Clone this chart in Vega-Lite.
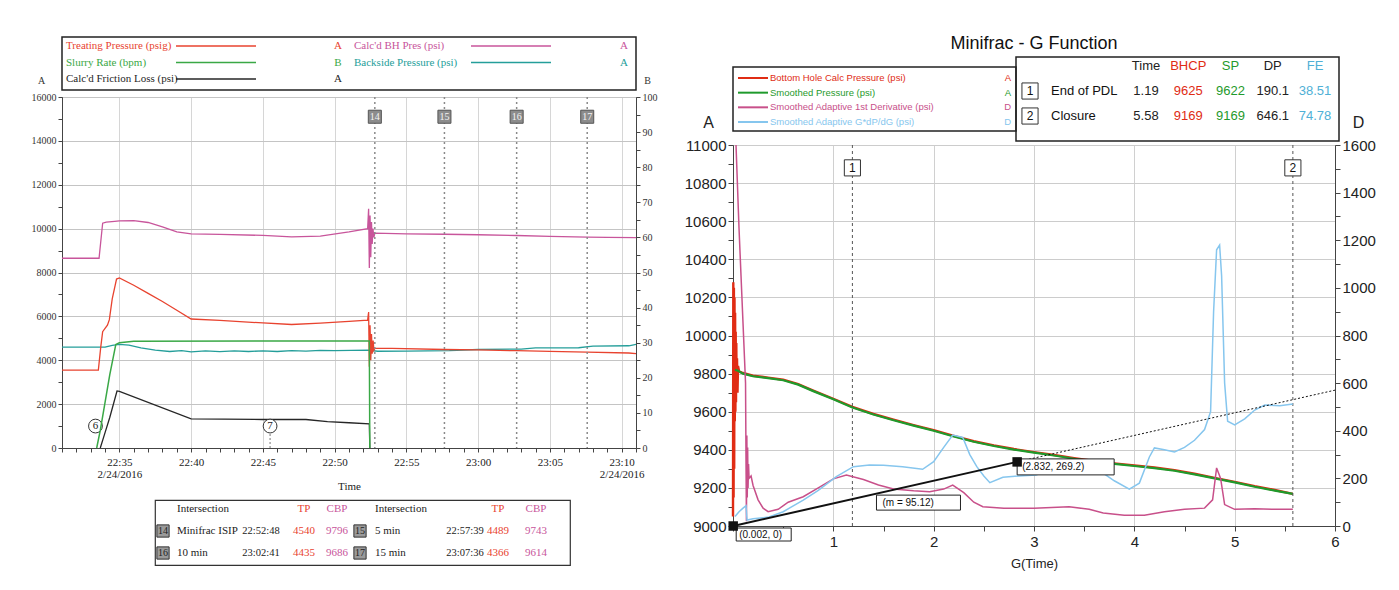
{
"$schema":"https://vega.github.io/schema/vega-lite/v6.json",
"background":"white",
"padding":{"left":30,"top":35,"right":0,"bottom":0},
"config":{"view":{"stroke":null},"axis":{"labelFontWeight":"normal","titleFontWeight":"normal","labelFlush":false,"labelOverlap":false}},
"datasets":{
"leftA":[
{"s":"BHP","t":31,"v":8650},{"s":"BHP","t":33.583,"v":8650},{"s":"BHP","t":33.833,"v":10250},{"s":"BHP","t":34.083,"v":10300},{"s":"BHP","t":34.667,"v":10330},{"s":"BHP","t":35,"v":10350},{"s":"BHP","t":36,"v":10360},{"s":"BHP","t":37,"v":10280},{"s":"BHP","t":38,"v":10080},{"s":"BHP","t":39,"v":9850},{"s":"BHP","t":40,"v":9760},{"s":"BHP","t":42,"v":9740},{"s":"BHP","t":45,"v":9690},{"s":"BHP","t":47,"v":9620},{"s":"BHP","t":49,"v":9660},{"s":"BHP","t":51,"v":9850},{"s":"BHP","t":52.3,"v":10000},{"s":"BHP","t":52.367,"v":10900},{"s":"BHP","t":52.417,"v":8200},{"s":"BHP","t":52.467,"v":10600},{"s":"BHP","t":52.517,"v":8700},{"s":"BHP","t":52.567,"v":10300},{"s":"BHP","t":52.617,"v":9300},{"s":"BHP","t":52.667,"v":10000},{"s":"BHP","t":52.733,"v":9600},{"s":"BHP","t":52.8,"v":9796},{"s":"BHP","t":55,"v":9765},{"s":"BHP","t":57.65,"v":9743},{"s":"BHP","t":60,"v":9720},{"s":"BHP","t":62.683,"v":9686},{"s":"BHP","t":65,"v":9650},{"s":"BHP","t":67.6,"v":9614},{"s":"BHP","t":69,"v":9600},{"s":"BHP","t":71,"v":9590},
{"s":"BS","t":31,"v":4600},{"s":"BS","t":34,"v":4600},{"s":"BS","t":34.5,"v":4680},{"s":"BS","t":35,"v":4720},{"s":"BS","t":35.667,"v":4690},{"s":"BS","t":36.5,"v":4560},{"s":"BS","t":37.5,"v":4460},{"s":"BS","t":38.5,"v":4400},{"s":"BS","t":39.333,"v":4440},{"s":"BS","t":40,"v":4380},{"s":"BS","t":41,"v":4430},{"s":"BS","t":42,"v":4390},{"s":"BS","t":43,"v":4430},{"s":"BS","t":44,"v":4400},{"s":"BS","t":45,"v":4430},{"s":"BS","t":46,"v":4400},{"s":"BS","t":47,"v":4440},{"s":"BS","t":48,"v":4420},{"s":"BS","t":49,"v":4450},{"s":"BS","t":50,"v":4440},{"s":"BS","t":52.333,"v":4460},{"s":"BS","t":53,"v":4410},{"s":"BS","t":55,"v":4420},{"s":"BS","t":58,"v":4440},{"s":"BS","t":60,"v":4490},{"s":"BS","t":63,"v":4510},{"s":"BS","t":64,"v":4560},{"s":"BS","t":67,"v":4570},{"s":"BS","t":68,"v":4640},{"s":"BS","t":70.5,"v":4660},{"s":"BS","t":71,"v":4720},
{"s":"TP","t":31,"v":3550},{"s":"TP","t":33.533,"v":3550},{"s":"TP","t":33.7,"v":4600},{"s":"TP","t":33.833,"v":5300},{"s":"TP","t":34,"v":5450},{"s":"TP","t":34.167,"v":5600},{"s":"TP","t":34.3,"v":5850},{"s":"TP","t":34.5,"v":6800},{"s":"TP","t":34.8,"v":7700},{"s":"TP","t":35,"v":7750},{"s":"TP","t":36,"v":7420},{"s":"TP","t":37,"v":7050},{"s":"TP","t":38,"v":6680},{"s":"TP","t":39,"v":6280},{"s":"TP","t":40,"v":5880},{"s":"TP","t":42,"v":5820},{"s":"TP","t":45,"v":5700},{"s":"TP","t":47,"v":5630},{"s":"TP","t":49,"v":5690},{"s":"TP","t":51,"v":5770},{"s":"TP","t":52.3,"v":5830},{"s":"TP","t":52.367,"v":6200},{"s":"TP","t":52.417,"v":3700},{"s":"TP","t":52.467,"v":5600},{"s":"TP","t":52.517,"v":4000},{"s":"TP","t":52.567,"v":5200},{"s":"TP","t":52.617,"v":4300},{"s":"TP","t":52.683,"v":4900},{"s":"TP","t":52.733,"v":4450},{"s":"TP","t":52.8,"v":4540},{"s":"TP","t":54,"v":4540},{"s":"TP","t":57.65,"v":4489},{"s":"TP","t":60,"v":4470},{"s":"TP","t":62.683,"v":4435},{"s":"TP","t":65,"v":4400},{"s":"TP","t":67.6,"v":4366},{"s":"TP","t":70.5,"v":4330},{"s":"TP","t":71,"v":4300},
{"s":"FL","t":33.667,"v":0},{"s":"FL","t":34,"v":700},{"s":"FL","t":34.333,"v":1400},{"s":"FL","t":34.833,"v":2600},{"s":"FL","t":35,"v":2580},{"s":"FL","t":40,"v":1330},{"s":"FL","t":45,"v":1300},{"s":"FL","t":48,"v":1300},{"s":"FL","t":49.5,"v":1200},{"s":"FL","t":51,"v":1150},{"s":"FL","t":52.417,"v":1100},{"s":"FL","t":52.45,"v":0}
],
"leftB":[
{"t":33.417,"v":0},{"t":33.667,"v":5},{"t":34,"v":13},{"t":34.333,"v":21},{"t":34.75,"v":29.5},{"t":35,"v":30},{"t":36,"v":30.4},{"t":52.417,"v":30.5},{"t":52.45,"v":0}
],
"leftMarks":[{"t":52.8,"k":"14"},{"t":57.65,"k":"15"},{"t":62.683,"k":"16"},{"t":67.6,"k":"17"}],
"leftCircles":[{"t":33.333,"k":"6"},{"t":45.5,"k":"7"}],
"leftLegend":[
{"s":"TP","name":"Treating Pressure (psig)","ax":"A","col":1,"row":1},
{"s":"BHP","name":"Calc'd BH Pres (psi)","ax":"A","col":2,"row":1},
{"s":"SR","name":"Slurry Rate (bpm)","ax":"B","col":1,"row":2},
{"s":"BS","name":"Backside Pressure (psi)","ax":"A","col":2,"row":2},
{"s":"FL","name":"Calc'd Friction Loss (psi)","ax":"A","col":1,"row":3}
],
"leftTable":[
{"half":1,"row":"h","name":"Intersection","tp":"TP","cbp":"CBP"},
{"half":2,"row":"h","name":"Intersection","tp":"TP","cbp":"CBP"},
{"half":1,"row":"r1","idx":"14","name":"Minifrac ISIP","time":"22:52:48","tp":"4540","cbp":"9796"},
{"half":2,"row":"r1","idx":"15","name":"5 min","time":"22:57:39","tp":"4489","cbp":"9743"},
{"half":1,"row":"r2","idx":"16","name":"10 min","time":"23:02:41","tp":"4435","cbp":"9686"},
{"half":2,"row":"r2","idx":"17","name":"15 min","time":"23:07:36","tp":"4366","cbp":"9614"}
],
"rightA":[
{"s":"BHCP","g":0.0,"v":9050},{"s":"BHCP","g":0.003,"v":10280},{"s":"BHCP","g":0.006,"v":9150},{"s":"BHCP","g":0.009,"v":10250},{"s":"BHCP","g":0.012,"v":9300},{"s":"BHCP","g":0.015,"v":10200},{"s":"BHCP","g":0.018,"v":9550},{"s":"BHCP","g":0.021,"v":10120},{"s":"BHCP","g":0.024,"v":9600},{"s":"BHCP","g":0.027,"v":10020},{"s":"BHCP","g":0.03,"v":9650},{"s":"BHCP","g":0.033,"v":9960},{"s":"BHCP","g":0.036,"v":9720},{"s":"BHCP","g":0.04,"v":9880},{"s":"BHCP","g":0.045,"v":9700},{"s":"BHCP","g":0.05,"v":9840},{"s":"BHCP","g":0.06,"v":9812},{"s":"BHCP","g":0.1,"v":9803},{"s":"BHCP","g":0.2,"v":9789},{"s":"BHCP","g":0.35,"v":9779},{"s":"BHCP","g":0.5,"v":9768},{"s":"BHCP","g":0.65,"v":9745},{"s":"BHCP","g":0.8,"v":9711},{"s":"BHCP","g":1.0,"v":9668},{"s":"BHCP","g":1.19,"v":9625},{"s":"BHCP","g":1.4,"v":9588},{"s":"BHCP","g":1.6,"v":9558},{"s":"BHCP","g":1.8,"v":9530},{"s":"BHCP","g":2.0,"v":9503},{"s":"BHCP","g":2.2,"v":9473},{"s":"BHCP","g":2.4,"v":9445},{"s":"BHCP","g":2.6,"v":9423},{"s":"BHCP","g":2.8,"v":9404},{"s":"BHCP","g":3.0,"v":9388},{"s":"BHCP","g":3.2,"v":9373},{"s":"BHCP","g":3.4,"v":9356},{"s":"BHCP","g":3.6,"v":9341},{"s":"BHCP","g":3.8,"v":9329},{"s":"BHCP","g":4.0,"v":9318},{"s":"BHCP","g":4.2,"v":9307},{"s":"BHCP","g":4.4,"v":9293},{"s":"BHCP","g":4.6,"v":9274},{"s":"BHCP","g":4.8,"v":9253},{"s":"BHCP","g":5.0,"v":9232},{"s":"BHCP","g":5.2,"v":9209},{"s":"BHCP","g":5.4,"v":9189},{"s":"BHCP","g":5.58,"v":9169},
{"s":"SP","g":0.02,"v":9820},{"s":"SP","g":0.05,"v":9815},{"s":"SP","g":0.1,"v":9800},{"s":"SP","g":0.2,"v":9786},{"s":"SP","g":0.35,"v":9776},{"s":"SP","g":0.5,"v":9765},{"s":"SP","g":0.65,"v":9742},{"s":"SP","g":0.8,"v":9708},{"s":"SP","g":1.0,"v":9665},{"s":"SP","g":1.19,"v":9622},{"s":"SP","g":1.4,"v":9585},{"s":"SP","g":1.6,"v":9555},{"s":"SP","g":1.8,"v":9527},{"s":"SP","g":2.0,"v":9500},{"s":"SP","g":2.2,"v":9470},{"s":"SP","g":2.4,"v":9442},{"s":"SP","g":2.6,"v":9420},{"s":"SP","g":2.8,"v":9401},{"s":"SP","g":3.0,"v":9385},{"s":"SP","g":3.2,"v":9370},{"s":"SP","g":3.4,"v":9353},{"s":"SP","g":3.6,"v":9338},{"s":"SP","g":3.8,"v":9326},{"s":"SP","g":4.0,"v":9315},{"s":"SP","g":4.2,"v":9304},{"s":"SP","g":4.4,"v":9290},{"s":"SP","g":4.6,"v":9271},{"s":"SP","g":4.8,"v":9250},{"s":"SP","g":5.0,"v":9229},{"s":"SP","g":5.2,"v":9206},{"s":"SP","g":5.4,"v":9186},{"s":"SP","g":5.58,"v":9169}
],
"rightD":[
{"s":"Deriv","g":0.015,"v":2000},{"s":"Deriv","g":0.03,"v":1600},{"s":"Deriv","g":0.06,"v":1250},{"s":"Deriv","g":0.08,"v":1050},{"s":"Deriv","g":0.1,"v":850},{"s":"Deriv","g":0.115,"v":700},{"s":"Deriv","g":0.125,"v":600},{"s":"Deriv","g":0.13,"v":250},{"s":"Deriv","g":0.134,"v":20},{"s":"Deriv","g":0.138,"v":380},{"s":"Deriv","g":0.142,"v":120},{"s":"Deriv","g":0.146,"v":330},{"s":"Deriv","g":0.15,"v":160},{"s":"Deriv","g":0.155,"v":260},{"s":"Deriv","g":0.16,"v":200},{"s":"Deriv","g":0.18,"v":210},{"s":"Deriv","g":0.2,"v":170},{"s":"Deriv","g":0.25,"v":110},{"s":"Deriv","g":0.3,"v":75},{"s":"Deriv","g":0.35,"v":60},{"s":"Deriv","g":0.45,"v":70},{"s":"Deriv","g":0.55,"v":100},{"s":"Deriv","g":0.7,"v":123},{"s":"Deriv","g":0.85,"v":160},{"s":"Deriv","g":1.0,"v":198},{"s":"Deriv","g":1.13,"v":214},{"s":"Deriv","g":1.3,"v":195},{"s":"Deriv","g":1.45,"v":172},{"s":"Deriv","g":1.6,"v":155},{"s":"Deriv","g":1.8,"v":148},{"s":"Deriv","g":1.96,"v":144},{"s":"Deriv","g":2.1,"v":155},{"s":"Deriv","g":2.19,"v":172},{"s":"Deriv","g":2.3,"v":140},{"s":"Deriv","g":2.4,"v":100},{"s":"Deriv","g":2.49,"v":81},{"s":"Deriv","g":2.7,"v":75},{"s":"Deriv","g":3.0,"v":75},{"s":"Deriv","g":3.35,"v":81},{"s":"Deriv","g":3.55,"v":70},{"s":"Deriv","g":3.69,"v":55},{"s":"Deriv","g":3.9,"v":45},{"s":"Deriv","g":4.1,"v":45},{"s":"Deriv","g":4.3,"v":60},{"s":"Deriv","g":4.5,"v":70},{"s":"Deriv","g":4.7,"v":75},{"s":"Deriv","g":4.78,"v":110},{"s":"Deriv","g":4.82,"v":244},{"s":"Deriv","g":4.86,"v":200},{"s":"Deriv","g":4.9,"v":90},{"s":"Deriv","g":5.0,"v":70},{"s":"Deriv","g":5.2,"v":72},{"s":"Deriv","g":5.4,"v":70},{"s":"Deriv","g":5.58,"v":70},
{"s":"GdP","g":0.02,"v":40},{"s":"GdP","g":0.06,"v":60},{"s":"GdP","g":0.1,"v":75},{"s":"GdP","g":0.13,"v":85},{"s":"GdP","g":0.14,"v":25},{"s":"GdP","g":0.2,"v":30},{"s":"GdP","g":0.3,"v":35},{"s":"GdP","g":0.36,"v":38},{"s":"GdP","g":0.5,"v":60},{"s":"GdP","g":0.7,"v":109},{"s":"GdP","g":0.85,"v":150},{"s":"GdP","g":1.03,"v":207},{"s":"GdP","g":1.2,"v":249},{"s":"GdP","g":1.36,"v":256},{"s":"GdP","g":1.5,"v":255},{"s":"GdP","g":1.69,"v":249},{"s":"GdP","g":1.89,"v":238},{"s":"GdP","g":2.0,"v":270},{"s":"GdP","g":2.1,"v":330},{"s":"GdP","g":2.19,"v":382},{"s":"GdP","g":2.29,"v":372},{"s":"GdP","g":2.36,"v":300},{"s":"GdP","g":2.43,"v":249},{"s":"GdP","g":2.5,"v":210},{"s":"GdP","g":2.56,"v":182},{"s":"GdP","g":2.69,"v":205},{"s":"GdP","g":2.85,"v":210},{"s":"GdP","g":3.02,"v":214},{"s":"GdP","g":3.2,"v":240},{"s":"GdP","g":3.36,"v":263},{"s":"GdP","g":3.5,"v":265},{"s":"GdP","g":3.62,"v":262},{"s":"GdP","g":3.69,"v":222},{"s":"GdP","g":3.8,"v":190},{"s":"GdP","g":3.95,"v":155},{"s":"GdP","g":4.05,"v":180},{"s":"GdP","g":4.15,"v":290},{"s":"GdP","g":4.2,"v":328},{"s":"GdP","g":4.3,"v":320},{"s":"GdP","g":4.4,"v":311},{"s":"GdP","g":4.5,"v":330},{"s":"GdP","g":4.6,"v":360},{"s":"GdP","g":4.7,"v":405},{"s":"GdP","g":4.76,"v":480},{"s":"GdP","g":4.79,"v":900},{"s":"GdP","g":4.82,"v":1160},{"s":"GdP","g":4.85,"v":1180},{"s":"GdP","g":4.87,"v":1050},{"s":"GdP","g":4.9,"v":600},{"s":"GdP","g":4.93,"v":440},{"s":"GdP","g":5.0,"v":425},{"s":"GdP","g":5.1,"v":450},{"s":"GdP","g":5.2,"v":487},{"s":"GdP","g":5.3,"v":508},{"s":"GdP","g":5.45,"v":505},{"s":"GdP","g":5.58,"v":512}
],
"rightFit":[{"g":0.002,"d":0},{"g":2.832,"d":269.2}],
"rightExt":[{"g":2.832,"d":269.2},{"g":6,"d":570.5}],
"rightMarks":[{"g":1.19,"k":"1"},{"g":5.58,"k":"2"}],
"lblA":[{"g":2.832,"d":269.2,"k":"(2.832, 269.2)"}],
"lblM":[{"g":1.43,"d":136,"k":"(m = 95.12)"}],
"lblO":[{"g":0.002,"d":0,"k":"(0.002, 0)"}],
"rightLegend":[
{"s":"BHCP","name":"Bottom Hole Calc Pressure (psi)","ax":"A","o":1},
{"s":"SP","name":"Smoothed Pressure (psi)","ax":"A","o":2},
{"s":"Deriv","name":"Smoothed Adaptive 1st Derivative (psi)","ax":"D","o":3},
{"s":"GdP","name":"Smoothed Adaptive G*dP/dG (psi)","ax":"D","o":4}
],
"rightTable":[
{"r":"h","c":"TimeC","txt":"Time"},{"r":"h","c":"BHCP","txt":"BHCP"},{"r":"h","c":"SP","txt":"SP"},{"r":"h","c":"DPC","txt":"DP"},{"r":"h","c":"FEC","txt":"FE"},
{"r":"1","c":"TimeC","txt":"1.19"},{"r":"1","c":"BHCP","txt":"9625"},{"r":"1","c":"SP","txt":"9622"},{"r":"1","c":"DPC","txt":"190.1"},{"r":"1","c":"FEC","txt":"38.51"},
{"r":"2","c":"TimeC","txt":"5.58"},{"r":"2","c":"BHCP","txt":"9169"},{"r":"2","c":"SP","txt":"9169"},{"r":"2","c":"DPC","txt":"646.1"},{"r":"2","c":"FEC","txt":"74.78"}
],
"rightTableNames":[{"r":"1","idx":"1","name":"End of PDL"},{"r":"2","idx":"2","name":"Closure"}],
"spacer":[{"k":""}]
},
"hconcat":[
{
"vconcat":[
 {"vconcat":[
  {
   "width":574,"height":53,
   "view":{"stroke":"#222","strokeWidth":1.5},
   "data":{"name":"leftLegend"},
   "encoding":{
    "y":{"field":"row","type":"ordinal","scale":{"domain":[1,2,3],"range":[9,42],"padding":0},"axis":null},
    "color":{"field":"s","type":"nominal","scale":{"domain":["TP","BHP","SR","BS","FL","BHCP","SP","Deriv","GdP","TimeC","DPC","FEC"],"range":["#e8432f","#c8559b","#3aa846","#249e9a","#262626","#e02c14","#1f9a2c","#c8508a","#86c6ee","#222222","#222222","#4fb0d6"]},"legend":null}
   },
   "layer":[
    {"mark":{"type":"text","align":"left","baseline":"middle","font":"Liberation Serif","fontSize":11},
     "encoding":{"x":{"field":"col","type":"ordinal","scale":{"domain":[1,2],"range":[4,292],"padding":0},"axis":null},"text":{"field":"name"}}},
    {"mark":{"type":"point","shape":"M-1,0H1","size":6400,"filled":false,"strokeWidth":1.3,"opacity":1},
     "encoding":{"x":{"field":"col","type":"ordinal","scale":{"domain":[1,2],"range":[154,449],"padding":0},"axis":null}}},
    {"mark":{"type":"text","align":"center","baseline":"middle","font":"Liberation Serif","fontSize":11},
     "encoding":{"x":{"field":"col","type":"ordinal","scale":{"domain":[1,2],"range":[276,562],"padding":0},"axis":null},"text":{"field":"ax"}}}
   ],
   "resolve":{"scale":{"x":"independent"}}
  },
  {
   "width":574,"height":351,
   "view":{"stroke":"#555"},
   "encoding":{"x":{"field":"t","type":"quantitative",
     "scale":{"domain":[31,71],"nice":false},
     "axis":{"title":"Time","titleFont":"Liberation Serif","titleFontSize":11,"titleColor":"#222","titleY":38,"titleBaseline":"middle",
       "tickCount":40,
       "labelExpr":"datum.value % 5 === 0 ? ((datum.value === 35 || datum.value === 70) ? [(22 + floor(datum.value / 60)) + ':' + (datum.value % 60 < 10 ? '0' : '') + (datum.value % 60), '2/24/2016'] : (22 + floor(datum.value / 60)) + ':' + (datum.value % 60 < 10 ? '0' : '') + (datum.value % 60)) : ''",
       "labelFont":"Liberation Serif","labelFontSize":11,"labelLineHeight":12,"labelColor":"#222","labelPadding":4,
       "tickSize":4,"tickColor":"#444","domainColor":"#444",
       "gridColor":{"condition":{"test":"datum.value % 5 === 0","value":"#d6d6d6"},"value":"rgba(0,0,0,0)"}}}},
   "layer":[
    {"layer":[
     {"data":{"name":"leftA"},
      "mark":{"type":"line","strokeWidth":1.3},
      "encoding":{
       "y":{"field":"v","type":"quantitative","scale":{"domain":[0,16000],"nice":false},
        "axis":{"title":"A","titleAngle":0,"titleX":-21,"titleY":-17,"titleAlign":"center","titleBaseline":"middle","titleFont":"Liberation Serif","titleFontSize":10,"titleColor":"#333",
         "tickCount":16,"format":"d","labelExpr":"datum.value % 2000 === 0 ? datum.label : ''","labelFont":"Liberation Serif","labelFontSize":10,"labelColor":"#333",
         "tickSize":4,"tickColor":"#444","domainColor":"#444",
         "gridColor":{"condition":{"test":"datum.value % 2000 === 0","value":"#c4c4c4"},"value":"rgba(0,0,0,0)"}}},
       "color":{"field":"s","type":"nominal","scale":{"domain":["TP","BHP","SR","BS","FL","BHCP","SP","Deriv","GdP","TimeC","DPC","FEC"],"range":["#e8432f","#c8559b","#3aa846","#249e9a","#262626","#e02c14","#1f9a2c","#c8508a","#86c6ee","#222222","#222222","#4fb0d6"]},"legend":null}}},
     {"data":{"name":"leftMarks"},
      "mark":{"type":"rule","strokeDash":[2,3],"strokeWidth":1.5,"color":"#8a8a8a"},
      "encoding":{}}
    ]},
    {"layer":[
     {"data":{"name":"leftMarks"},
      "mark":{"type":"point","shape":"square","size":170,"filled":true,"fill":"#8c8c8c","stroke":"#555","strokeWidth":1,"opacity":1},
      "encoding":{"y":{"datum":15100,"type":"quantitative","scale":{"domain":[0,16000],"nice":false},"axis":null}}},
     {"data":{"name":"leftMarks"},
      "mark":{"type":"text","font":"Liberation Serif","fontSize":10,"color":"#f4f4f4","baseline":"middle"},
      "encoding":{"y":{"datum":15100,"type":"quantitative","scale":{"domain":[0,16000],"nice":false},"axis":null},"text":{"field":"k"}}},
     {"data":{"name":"leftCircles"},
      "transform":[{"filter":"datum.k === '7'"}],
      "mark":{"type":"rule","strokeDash":[2,2],"strokeWidth":1,"color":"#777"},
      "encoding":{"y":{"datum":0,"type":"quantitative","scale":{"domain":[0,16000],"nice":false},"axis":null},"y2":{"datum":650}}},
     {"data":{"name":"leftCircles"},
      "mark":{"type":"point","shape":"circle","size":190,"filled":true,"fill":"white","stroke":"#333","strokeWidth":1,"opacity":1},
      "encoding":{"y":{"datum":1000,"type":"quantitative","scale":{"domain":[0,16000],"nice":false},"axis":null}}},
     {"data":{"name":"leftCircles"},
      "mark":{"type":"text","font":"Liberation Serif","fontSize":11,"color":"#222","baseline":"middle"},
      "encoding":{"y":{"datum":1000,"type":"quantitative","scale":{"domain":[0,16000],"nice":false},"axis":null},"text":{"field":"k"}}}
    ]},
    {"layer":[
     {"data":{"name":"leftB"},
      "mark":{"type":"line","strokeWidth":1.5,"color":"#3aa846"},
      "encoding":{"y":{"field":"v","type":"quantitative","scale":{"domain":[0,100],"nice":false},
       "axis":{"orient":"right","title":"B","titleAngle":0,"titleX":11,"titleY":-17,"titleAlign":"center","titleBaseline":"middle","titleFont":"Liberation Serif","titleFontSize":10,"titleColor":"#333",
        "tickCount":20,"labelExpr":"datum.value % 10 === 0 ? datum.label : ''","labelFont":"Liberation Serif","labelFontSize":10,"labelColor":"#333",
        "tickSize":4,"tickColor":"#444","domainColor":"#444","grid":false}}}}
    ]}
   ],
   "resolve":{"scale":{"y":"independent"}}
  }
 ],"spacing":7,"bounds":"flush"},
 {"hconcat":[
  {"width":84,"height":20,"data":{"name":"spacer"},"mark":{"type":"text"},"encoding":{"text":{"field":"k"}}},
  {
   "width":415,"height":65,
   "view":{"stroke":"#333","strokeWidth":1.2},
   "data":{"name":"leftTable"},
   "encoding":{"y":{"field":"row","type":"ordinal","scale":{"domain":["h","r1","r2"],"range":[9,53],"padding":0},"axis":null}},
   "layer":[
    {"transform":[{"filter":"datum.idx != null"}],
     "mark":{"type":"point","shape":"square","size":150,"filled":true,"fill":"#9a9a9a","stroke":"#333","strokeWidth":1,"opacity":1},
     "encoding":{"x":{"field":"half","type":"ordinal","scale":{"domain":[1,2],"range":[8,205],"padding":0},"axis":null}}},
    {"transform":[{"filter":"datum.idx != null"}],
     "mark":{"type":"text","font":"Liberation Serif","fontSize":10,"color":"#222","baseline":"middle"},
     "encoding":{"x":{"field":"half","type":"ordinal","scale":{"domain":[1,2],"range":[8,205],"padding":0},"axis":null},"text":{"field":"idx"}}},
    {"mark":{"type":"text","font":"Liberation Serif","fontSize":11,"color":"#222","align":"left","baseline":"middle"},
     "encoding":{"x":{"field":"half","type":"ordinal","scale":{"domain":[1,2],"range":[22,220],"padding":0},"axis":null},"text":{"field":"name"}}},
    {"transform":[{"filter":"datum.time != null"}],
     "mark":{"type":"text","font":"Liberation Serif","fontSize":10.5,"color":"#222","baseline":"middle"},
     "encoding":{"x":{"field":"half","type":"ordinal","scale":{"domain":[1,2],"range":[106,310],"padding":0},"axis":null},"text":{"field":"time"}}},
    {"mark":{"type":"text","font":"Liberation Serif","fontSize":11,"color":"#e8432f","baseline":"middle"},
     "encoding":{"x":{"field":"half","type":"ordinal","scale":{"domain":[1,2],"range":[149,343],"padding":0},"axis":null},"text":{"field":"tp"}}},
    {"mark":{"type":"text","font":"Liberation Serif","fontSize":11,"color":"#c8559b","baseline":"middle"},
     "encoding":{"x":{"field":"half","type":"ordinal","scale":{"domain":[1,2],"range":[182,381],"padding":0},"axis":null},"text":{"field":"cbp"}}}
   ],
   "resolve":{"scale":{"x":"independent"}}
  }
 ],"spacing":9,"bounds":"flush"}
],
"spacing":7
},
{
"vconcat":[
 {"vconcat":[
  {"width":602,"height":14,"data":{"values":[{"t":"Minifrac - G Function"}]},
   "mark":{"type":"text","font":"Liberation Sans","fontSize":18,"color":"#111","baseline":"middle"},
   "encoding":{"text":{"field":"t"}}},
  {"hconcat":[
   {
    "width":283,"height":64,
    "view":{"stroke":"#222","strokeWidth":1.5},
    "data":{"name":"rightLegend"},
    "encoding":{
     "y":{"field":"o","type":"ordinal","scale":{"domain":[1,2,3,4],"range":[11,55],"padding":0},"axis":null},
     "color":{"field":"s","type":"nominal","scale":{"domain":["TP","BHP","SR","BS","FL","BHCP","SP","Deriv","GdP","TimeC","DPC","FEC"],"range":["#e8432f","#c8559b","#3aa846","#249e9a","#262626","#e02c14","#1f9a2c","#c8508a","#86c6ee","#222222","#222222","#4fb0d6"]},"legend":null}
    },
    "layer":[
     {"mark":{"type":"point","shape":"M-1,0H1","size":900,"filled":false,"strokeWidth":2,"opacity":1},
      "encoding":{"x":{"datum":"l","type":"nominal","scale":{"domain":["l"],"range":[20,20],"padding":0},"axis":null}}},
     {"mark":{"type":"text","align":"left","baseline":"middle","font":"Liberation Sans","fontSize":9.5},
      "encoding":{"x":{"datum":"n","type":"nominal","scale":{"domain":["n"],"range":[37,37],"padding":0},"axis":null},"text":{"field":"name"}}},
     {"mark":{"type":"text","align":"right","baseline":"middle","font":"Liberation Sans","fontSize":9.5},
      "encoding":{"x":{"datum":"a","type":"nominal","scale":{"domain":["a"],"range":[278,278],"padding":0},"axis":null},"text":{"field":"ax"}}}
    ],
    "resolve":{"scale":{"x":"independent"}}
   },
   {
    "width":323,"height":84,
    "view":{"stroke":"#222","strokeWidth":1.5},
    "encoding":{"y":{"field":"r","type":"ordinal","scale":{"domain":["h","1","2"],"range":[9,59],"padding":0},"axis":null}},
    "layer":[
     {"data":{"name":"rightTable"},
      "mark":{"type":"text","align":"center","baseline":"middle","font":"Liberation Sans","fontSize":13},
      "encoding":{"x":{"field":"c","type":"nominal","scale":{"domain":["TimeC","BHCP","SP","DPC","FEC"],"range":[130,299],"padding":0},"axis":null},
       "text":{"field":"txt"},
       "color":{"field":"c","type":"nominal","scale":{"domain":["TP","BHP","SR","BS","FL","BHCP","SP","Deriv","GdP","TimeC","DPC","FEC"],"range":["#e8432f","#c8559b","#3aa846","#249e9a","#262626","#e02c14","#1f9a2c","#c8508a","#86c6ee","#222222","#222222","#4fb0d6"]},"legend":null}}},
     {"data":{"name":"rightTableNames"},
      "mark":{"type":"point","shape":"square","size":260,"filled":true,"fill":"white","stroke":"#333","strokeWidth":1,"opacity":1},
      "encoding":{"x":{"datum":"i","type":"nominal","scale":{"domain":["i"],"range":[14,14],"padding":0},"axis":null}}},
     {"data":{"name":"rightTableNames"},
      "mark":{"type":"text","align":"center","baseline":"middle","font":"Liberation Sans","fontSize":12,"color":"#111"},
      "encoding":{"x":{"datum":"i","type":"nominal","scale":{"domain":["i"],"range":[14,14],"padding":0},"axis":null},"text":{"field":"idx"}}},
     {"data":{"name":"rightTableNames"},
      "mark":{"type":"text","align":"left","baseline":"middle","font":"Liberation Sans","fontSize":13,"color":"#111"},
      "encoding":{"x":{"datum":"n","type":"nominal","scale":{"domain":["n"],"range":[35,35],"padding":0},"axis":null},"text":{"field":"name"}}}
    ],
    "resolve":{"scale":{"x":"independent"}}
   }
  ],"spacing":0,"bounds":"flush","center":true}
 ],"spacing":3},
 {
  "width":602,"height":381,
  "view":{"stroke":"#444"},
  "encoding":{"x":{"field":"g","type":"quantitative","scale":{"domain":[0,6],"nice":false},
    "axis":{"title":"G(Time)","titleFont":"Liberation Sans","titleFontSize":13,"titleColor":"#222","titlePadding":8,
     "tickCount":12,"labelExpr":"datum.value > 0 && datum.value % 1 === 0 ? '' + datum.value : ''",
     "labelFont":"Liberation Sans","labelFontSize":15,"labelColor":"#222","labelPadding":3,
     "tickSize":5,"tickColor":"#444","domainColor":"#444",
     "gridColor":{"condition":{"test":"datum.value % 1 === 0","value":"#d0d0d0"},"value":"rgba(0,0,0,0)"}}}},
  "layer":[
   {"layer":[
    {"data":{"name":"rightA"},
     "mark":{"type":"line"},
     "encoding":{
      "y":{"field":"v","type":"quantitative","scale":{"domain":[9000,11000],"nice":false},
       "axis":{"title":"A","titleAngle":0,"titleX":-25,"titleY":-23,"titleAlign":"center","titleBaseline":"middle","titleFont":"Liberation Sans","titleFontSize":16,"titleColor":"#222",
        "tickCount":20,"format":"d","labelExpr":"datum.value % 200 === 0 ? datum.label : ''","labelFont":"Liberation Sans","labelFontSize":15,"labelColor":"#222",
        "tickSize":5,"tickColor":"#444","domainColor":"#444",
        "gridColor":{"condition":{"test":"datum.value % 200 === 0","value":"#cccccc"},"value":"rgba(0,0,0,0)"}}},
      "strokeWidth":{"field":"s","type":"nominal","scale":{"domain":["BHCP","SP"],"range":[2.4,2.2]},"legend":null},
      "color":{"field":"s","type":"nominal","scale":{"domain":["TP","BHP","SR","BS","FL","BHCP","SP","Deriv","GdP","TimeC","DPC","FEC"],"range":["#e8432f","#c8559b","#3aa846","#249e9a","#262626","#e02c14","#1f9a2c","#c8508a","#86c6ee","#222222","#222222","#4fb0d6"]},"legend":null}}},
    {"data":{"name":"rightMarks"},
     "mark":{"type":"rule","strokeDash":[3,3],"strokeWidth":1,"color":"#555"},
     "encoding":{}}
   ]},
   {"layer":[
    {"data":{"name":"rightMarks"},
     "mark":{"type":"point","shape":"square","size":260,"filled":true,"fill":"white","stroke":"#333","strokeWidth":1,"opacity":1},
     "encoding":{"y":{"datum":10880,"type":"quantitative","scale":{"domain":[9000,11000],"nice":false},"axis":null}}},
    {"data":{"name":"rightMarks"},
     "mark":{"type":"text","font":"Liberation Sans","fontSize":12,"color":"#111","baseline":"middle"},
     "encoding":{"y":{"datum":10880,"type":"quantitative","scale":{"domain":[9000,11000],"nice":false},"axis":null},"text":{"field":"k"}}}
   ]},
   {"layer":[
    {"data":{"name":"rightD"},
     "mark":{"type":"line","strokeWidth":1.5,"clip":true},
     "encoding":{
      "y":{"field":"v","type":"quantitative","scale":{"domain":[0,1600],"nice":false},
       "axis":{"orient":"right","title":"D","titleAngle":0,"titleX":23,"titleY":-23,"titleAlign":"center","titleBaseline":"middle","titleFont":"Liberation Sans","titleFontSize":16,"titleColor":"#222",
        "tickCount":16,"format":"d","labelExpr":"datum.value % 200 === 0 ? datum.label : ''","labelFont":"Liberation Sans","labelFontSize":15,"labelColor":"#222",
        "tickSize":5,"tickColor":"#444","domainColor":"#444","grid":false}},
      "color":{"field":"s","type":"nominal","scale":{"domain":["TP","BHP","SR","BS","FL","BHCP","SP","Deriv","GdP","TimeC","DPC","FEC"],"range":["#e8432f","#c8559b","#3aa846","#249e9a","#262626","#e02c14","#1f9a2c","#c8508a","#86c6ee","#222222","#222222","#4fb0d6"]},"legend":null}}}
   ]},
   {"layer":[
    {"data":{"name":"rightExt"},
     "mark":{"type":"line","strokeWidth":1,"strokeDash":[2,2],"color":"#111"},
     "encoding":{"y":{"field":"d","type":"quantitative","scale":{"domain":[0,1600],"nice":false},"axis":null}}},
    {"data":{"name":"rightFit"},
     "mark":{"type":"line","strokeWidth":2,"color":"#111"},
     "encoding":{"y":{"field":"d","type":"quantitative","scale":{"domain":[0,1600],"nice":false},"axis":null}}},
    {"data":{"name":"lblA"},
     "mark":{"type":"point","shape":"M0,-0.06H1.94V0.26H0Z","size":10000,"filled":true,"fill":"white","stroke":"#222","strokeWidth":1,"opacity":1},
     "encoding":{"y":{"field":"d","type":"quantitative","scale":{"domain":[0,1600],"nice":false},"axis":null}}},
    {"data":{"name":"lblA"},
     "mark":{"type":"text","font":"Liberation Sans","fontSize":10,"color":"#111","align":"left","baseline":"middle","dx":5,"dy":5},
     "encoding":{"y":{"field":"d","type":"quantitative","scale":{"domain":[0,1600],"nice":false},"axis":null},"text":{"field":"k"}}},
    {"data":{"name":"lblM"},
     "mark":{"type":"point","shape":"M0,0.03H1.68V0.33H0Z","size":10000,"filled":true,"fill":"white","stroke":"#222","strokeWidth":1,"opacity":1},
     "encoding":{"y":{"field":"d","type":"quantitative","scale":{"domain":[0,1600],"nice":false},"axis":null}}},
    {"data":{"name":"lblM"},
     "mark":{"type":"text","font":"Liberation Sans","fontSize":10,"color":"#111","align":"left","baseline":"middle","dx":6,"dy":9},
     "encoding":{"y":{"field":"d","type":"quantitative","scale":{"domain":[0,1600],"nice":false},"axis":null},"text":{"field":"k"}}},
    {"data":{"name":"lblO"},
     "mark":{"type":"point","shape":"M0.06,0.04H1.16V0.3H0.06Z","size":10000,"filled":true,"fill":"white","stroke":"#222","strokeWidth":1,"opacity":1},
     "encoding":{"y":{"field":"d","type":"quantitative","scale":{"domain":[0,1600],"nice":false},"axis":null}}},
    {"data":{"name":"lblO"},
     "mark":{"type":"text","font":"Liberation Sans","fontSize":10,"color":"#111","align":"left","baseline":"middle","dx":6,"dy":9},
     "encoding":{"y":{"field":"d","type":"quantitative","scale":{"domain":[0,1600],"nice":false},"axis":null},"text":{"field":"k"}}},
    {"data":{"name":"rightFit"},
     "mark":{"type":"point","shape":"square","size":90,"filled":true,"color":"#111","opacity":1},
     "encoding":{"y":{"field":"d","type":"quantitative","scale":{"domain":[0,1600],"nice":false},"axis":null}}}
   ]}
  ],
  "resolve":{"scale":{"y":"independent"}}
 }
],
"spacing":-29
}
],
"spacing":25
}
